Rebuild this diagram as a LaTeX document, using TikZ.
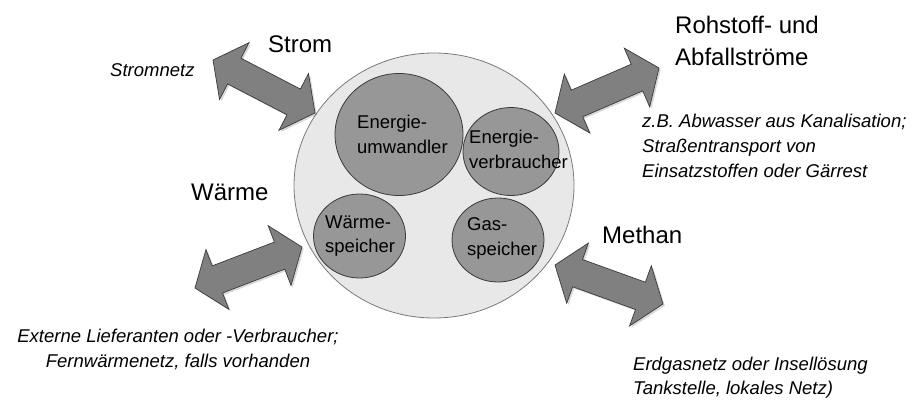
\documentclass[tikz,border=0pt]{standalone}
\usepackage{fontspec}
\setmainfont{Liberation Sans}
\usetikzlibrary{shapes.geometric,calc}

\definecolor{arrowgray}{HTML}{808080}
\definecolor{edgegray}{HTML}{3A3A3A}
\definecolor{hubfill}{HTML}{E8E8E8}
\definecolor{hubedge}{HTML}{7A7A7A}
\definecolor{unitfill}{HTML}{979797}

\tikzset{
  hub/.style={ellipse, draw=hubedge, fill=hubfill, line width=0.8pt, inner sep=0pt,
              minimum width=280pt, minimum height=265pt},
  unit/.style={ellipse, draw=edgegray, fill=unitfill, line width=0.8pt, inner sep=0pt},
  flow/.style={fill=arrowgray, draw=edgegray, line width=0.7pt, line join=miter},
  flowshadow/.style={fill=black, opacity=0.15},
  bigtxt/.style={font=\fontsize{24}{29}\selectfont, inner sep=0pt, anchor=base west},
  unittxt/.style={font=\fontsize{18.5}{25}\selectfont, inner sep=0pt, anchor=base west},
  notetxt/.style={font=\fontsize{18.5}{25}\selectfont\itshape, inner sep=0pt, anchor=base west},
}

% outline of a double-headed block arrow between two tips
\newcommand\arrowoutline[2]{%
  (#1) -- ($(#1)!24pt!(#2)!32pt!90:(#2)$) -- ($(#1)!24pt!(#2)!14.5pt!90:(#2)$)
  -- ($(#2)!24pt!(#1)!14.5pt!-90:(#1)$) -- ($(#2)!24pt!(#1)!32pt!-90:(#1)$)
  -- (#2) -- ($(#2)!24pt!(#1)!32pt!90:(#1)$) -- ($(#2)!24pt!(#1)!14.5pt!90:(#1)$)
  -- ($(#1)!24pt!(#2)!14.5pt!-90:(#2)$) -- ($(#1)!24pt!(#2)!32pt!-90:(#2)$) -- cycle}

\newcommand\flowarrow[2]{%
  \begin{scope}[transform canvas={xshift=1.8pt,yshift=-1.8pt}]
    \fill[flowshadow] \arrowoutline{#1}{#2};
  \end{scope}
  \draw[flow] \arrowoutline{#1}{#2};}

\begin{document}
\begin{tikzpicture}[x=1pt, y=-1pt]
  \useasboundingbox (0,0) rectangle (918,399);

  % plant boundary and its components
  \node[hub] (plant) at (434,185.5) {};
  \node[unit, minimum width=128pt, minimum height=122pt] (conv) at (399,134.5) {};
  \node[unit, minimum width=96pt, minimum height=88pt] (cons) at (511,151.5) {};
  \node[unit, minimum width=92pt, minimum height=84pt] (heat) at (359.5,236) {};
  \node[unit, minimum width=92pt, minimum height=84pt] (gas) at (498,240) {};

  \node[unittxt] (convA) at (357,128) {Energie-};
  \node[unittxt] (convB) at (357,153) {umwandler};
  \node[unittxt] (consA) at (469,143) {Energie-};
  \node[unittxt] (consB) at (469,168) {verbraucher};
  \node[unittxt] (heatA) at (325,228) {Wärme-};
  \node[unittxt] (heatB) at (325,252) {speicher};
  \node[unittxt] (gasA) at (467,230) {Gas-};
  \node[unittxt] (gasB) at (467,255) {speicher};

  % arrow tips
  \coordinate (stromOut) at (213,60);
  \coordinate (stromIn)  at (315,113);
  \coordinate (rohOut)   at (659,68);
  \coordinate (rohIn)    at (555,113);
  \coordinate (waermeOut) at (195,288);
  \coordinate (waermeIn)  at (302,247);
  \coordinate (methanOut) at (663,304);
  \coordinate (methanIn)  at (555,265);

  \flowarrow{stromOut}{stromIn}
  \flowarrow{rohIn}{rohOut}
  \flowarrow{waermeOut}{waermeIn}
  \flowarrow{methanIn}{methanOut}

  % flow labels
  \node[bigtxt] (strom) at (268,52) {Strom};
  \node[bigtxt] (rohA) at (675,33) {Rohstoff- und};
  \node[bigtxt] (rohB) at (675,65) {Abfallströme};
  \node[bigtxt] (waerme) at (191,200) {Wärme};
  \node[bigtxt] (methan) at (602,243) {Methan};

  % external partners
  \node[notetxt] (netz) at (110,76) {Stromnetz};
  \node[notetxt] (rohC) at (642,127) {z.B. Abwasser aus Kanalisation;};
  \node[notetxt] (rohD) at (642,152) {Straßentransport von};
  \node[notetxt] (rohE) at (642,177) {Einsatzstoffen oder Gärrest};
  \node[notetxt, anchor=base] (extA) at (178,342) {Externe Lieferanten oder -Verbraucher;};
  \node[notetxt, anchor=base] (extB) at (178,367) {Fernwärmenetz, falls vorhanden};
  \node[notetxt] (gasC) at (633,370) {Erdgasnetz oder Insellösung};
  \node[notetxt] (gasD) at (633,394) {Tankstelle, lokales Netz)};
\end{tikzpicture}
\end{document}
